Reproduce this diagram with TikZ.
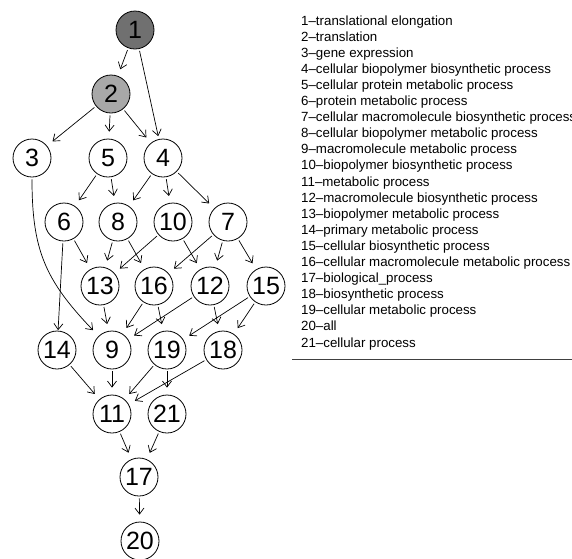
\documentclass[tikz,border=0pt]{standalone}
\usepackage{fontspec}
\setmainfont{Liberation Sans}
\usetikzlibrary{arrows.meta}
\tikzset{
  gnode/.style={circle,draw=black,line width=0.8pt,minimum size=38pt,inner sep=0pt,
    font=\fontsize{25}{25}\selectfont},
  edge/.style={line width=0.7pt,-{Straight Barb[length=6pt,width=9pt]},shorten >=7pt,shorten <=2pt},
  legend/.style={anchor=base west,inner sep=0pt,font=\fontsize{13.3}{16}\selectfont}
}
\begin{document}
\begin{tikzpicture}[x=1pt,y=-1pt]
\useasboundingbox (0,0) rectangle (572,558);
% nodes
\node[gnode,fill=black!56] (n1) at (135,30) {1};
\node[gnode,fill=black!34] (n2) at (111,94) {2};
\node[gnode] (n3) at (32,158) {3};
\node[gnode] (n5) at (108,158) {5};
\node[gnode] (n4) at (163,158) {4};
\node[gnode] (n6) at (64,222) {6};
\node[gnode] (n8) at (118,222) {8};
\node[gnode] (n10) at (173,222) {10};
\node[gnode] (n7) at (228,222) {7};
\node[gnode] (n13) at (100,286) {13};
\node[gnode] (n16) at (154,286) {16};
\node[gnode] (n12) at (210,286) {12};
\node[gnode] (n15) at (266,286) {15};
\node[gnode] (n14) at (57,350) {14};
\node[gnode] (n9) at (112,350) {9};
\node[gnode] (n19) at (167,350) {19};
\node[gnode] (n18) at (223,350) {18};
\node[gnode] (n11) at (112,414) {11};
\node[gnode] (n21) at (167,414) {21};
\node[gnode] (n17) at (139,477) {17};
\node[gnode] (n20) at (140,541) {20};
% edges
\draw[edge] (n1) -- (n2);
\draw[edge,shorten >=3pt] (n1) -- (n4);
\draw[edge] (n2) -- (n3);
\draw[edge] (n2) -- (n5);
\draw[edge] (n2) -- (n4);
\draw[edge] (n5) -- (n6);
\draw[edge] (n5) -- (n8);
\draw[edge] (n4) -- (n8);
\draw[edge] (n4) -- (n10);
\draw[edge] (n4) -- (n7);
\draw[edge,shorten >=8pt] (n3) .. controls (32,250) and (45,280) .. (n9);
\draw[edge,shorten >=0.5pt] (n6) -- (n14);
\draw[edge] (n6) -- (n13);
\draw[edge] (n8) -- (n13);
\draw[edge] (n8) -- (n16);
\draw[edge] (n10) -- (n13);
\draw[edge] (n10) -- (n12);
\draw[edge] (n7) -- (n16);
\draw[edge] (n7) -- (n12);
\draw[edge] (n7) -- (n15);
\draw[edge] (n13) -- (n9);
\draw[edge] (n16) -- (n9);
\draw[edge] (n16) -- (n19);
\draw[edge] (n12) -- (n9);
\draw[edge] (n12) -- (n18);
\draw[edge] (n15) -- (n19);
\draw[edge] (n15) -- (n18);
\draw[edge] (n14) -- (n11);
\draw[edge] (n9) -- (n11);
\draw[edge] (n19) -- (n11);
\draw[edge] (n19) -- (n21);
\draw[edge] (n18) -- (n11);
\draw[edge] (n11) -- (n17);
\draw[edge] (n21) -- (n17);
\draw[edge] (n17) -- (n20);
% legend
\node[legend] (l1) at (301,25) {1–translational elongation};
\node[legend] (l2) at (301,41.1) {2–translation};
\node[legend] (l3) at (301,57.2) {3–gene expression};
\node[legend] (l4) at (301,73.3) {4–cellular biopolymer biosynthetic process};
\node[legend] (l5) at (301,89.4) {5–cellular protein metabolic process};
\node[legend] (l6) at (301,105.5) {6–protein metabolic process};
\node[legend] (l7) at (301,121.6) {7–cellular macromolecule biosynthetic process};
\node[legend] (l8) at (301,137.7) {8–cellular biopolymer metabolic process};
\node[legend] (l9) at (301,153.8) {9–macromolecule metabolic process};
\node[legend] (l10) at (301,169.9) {10–biopolymer biosynthetic process};
\node[legend] (l11) at (301,186) {11–metabolic process};
\node[legend] (l12) at (301,202.1) {12–macromolecule biosynthetic process};
\node[legend] (l13) at (301,218.2) {13–biopolymer metabolic process};
\node[legend] (l14) at (301,234.3) {14–primary metabolic process};
\node[legend] (l15) at (301,250.4) {15–cellular biosynthetic process};
\node[legend] (l16) at (301,266.5) {16–cellular macromolecule metabolic process};
\node[legend] (l17) at (301,282.6) {17–biological\_process};
\node[legend] (l18) at (301,298.7) {18–biosynthetic process};
\node[legend] (l19) at (301,314.8) {19–cellular metabolic process};
\node[legend] (l20) at (301,330.9) {20–all};
\node[legend] (l21) at (301,347) {21–cellular process};
\coordinate (la) at (292,359);
\coordinate (lb) at (572,359);
\draw[line width=0.8pt,black!75] (la) -- (lb);
\end{tikzpicture}
\end{document}
